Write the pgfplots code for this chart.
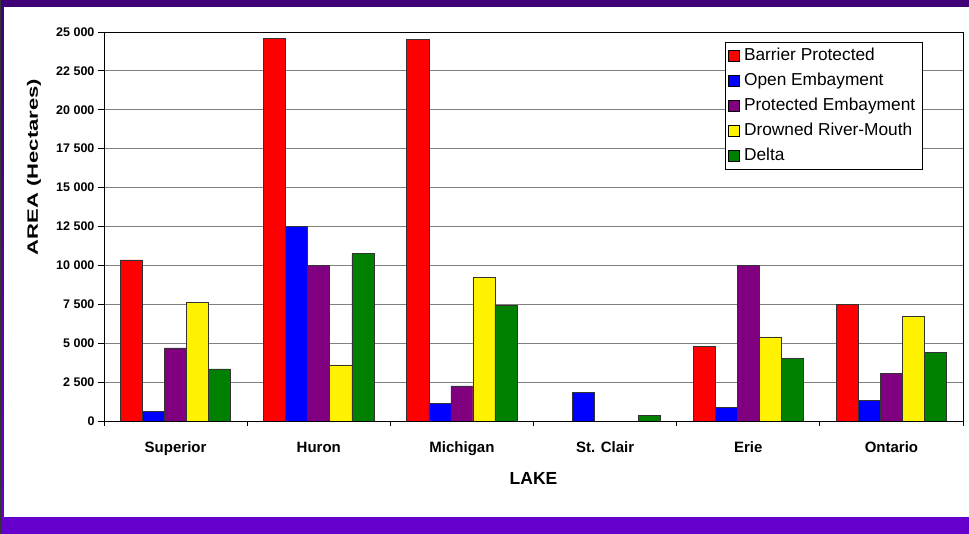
\documentclass[border=0pt]{standalone}
\usepackage{fontspec}
\setmainfont{Liberation Sans}
\usepackage{pgfplots}
\pgfplotsset{compat=1.18}
\definecolor{framedark}{HTML}{3F0078}
\definecolor{framebright}{HTML}{6600CC}
\definecolor{bpurple}{HTML}{800080}
\definecolor{bgreen}{HTML}{008000}
\definecolor{gridgray}{HTML}{808080}
\begin{document}
\begin{tikzpicture}[x=1pt,y=1pt]
\useasboundingbox (-104,-113) rectangle (865,421);
\fill[white] (-104,-113) rectangle (865,421);
\fill[framedark] (-104,414) rectangle (865,421);
\fill[framebright] (-104,-113) rectangle (865,-96);
\shade[top color=framedark,bottom color=framebright] (-104,-96) rectangle (-100,414);
\fill[black!80] (-104,-113) rectangle (-103,421);
\begin{axis}[
  at={(0,0)}, anchor=south west,
  scale only axis, width=859pt, height=389pt,
  ybar=0pt, bar width=0.154,
  xmin=-0.5, xmax=5.5, ymin=0, ymax=25000,
  axis line style={black, line width=0.8pt},
  tick pos=left, tick align=outside,
  xtick={0,1,2,3,4,5},
  xticklabels={Superior,Huron,Michigan,St. Clair,Erie,Ontario},
  minor xtick={-0.5,0.5,1.5,2.5,3.5,4.5,5.5},
  major x tick style={draw=none},
  minor x tick style={black, line width=0.8pt},
  minor tick length=5pt,
  ytick={0,2500,...,25000},
  major tick length=6pt,
  ytick style={black, line width=0.8pt},
  scaled y ticks=false,
  ymajorgrids, major grid style={gridgray, line width=0.9pt},
  yticklabel style={font=\fontsize{12.5}{15}\selectfont\bfseries,
    /pgf/number format/.cd, fixed, 1000 sep={\ }, assume math mode=true},
  xticklabel style={font=\fontsize{15}{18}\selectfont\bfseries, anchor=base, yshift=-26pt},
  xlabel={LAKE},
  xlabel style={font=\fontsize{17.5}{20}\selectfont\bfseries, at={(0.5,-0.1465)}, anchor=center},
  ylabel={\scalebox{1.47}[1]{AREA (Hectares)}},
  ylabel style={font=\fontsize{15}{18}\selectfont\bfseries, at={(-0.0815,0.653)}, anchor=center},
  legend style={at={(0.723,0.974)}, anchor=north west, draw=black, line width=0.8pt, fill=white,
    font=\fontsize{17.3}{20}\selectfont, row sep=4pt, inner xsep=3pt, inner ysep=3pt,
    nodes={inner xsep=4pt, inner ysep=2pt, text height=13pt, text depth=4pt}},
  legend cell align=left,
  legend image code/.code={\draw[#1,draw=black,line width=0.6pt] (0pt,-5.5pt) rectangle (11pt,5.5pt);},
]
\addplot[fill=red, draw=black!80, line width=0.6pt] coordinates {(0,10350) (1,24600) (2,24500) (4,4800) (5,7500)};
\addplot[fill=blue, draw=black!80, line width=0.6pt] coordinates {(0,600) (1,12500) (2,1150) (3,1850) (4,850) (5,1300)};
\addplot[fill=bpurple, draw=black!80, line width=0.6pt] coordinates {(0,4700) (1,10000) (2,2250) (4,10000) (5,3050)};
\addplot[fill=yellow, draw=black!80, line width=0.6pt] coordinates {(0,7600) (1,3600) (2,9250) (4,5400) (5,6700)};
\addplot[fill=bgreen, draw=black!80, line width=0.6pt] coordinates {(0,3350) (1,10750) (2,7450) (3,380) (4,4000) (5,4430)};
\legend{Barrier Protected, Open Embayment, Protected Embayment, Drowned River-Mouth, Delta}
\end{axis}
\end{tikzpicture}
\end{document}
